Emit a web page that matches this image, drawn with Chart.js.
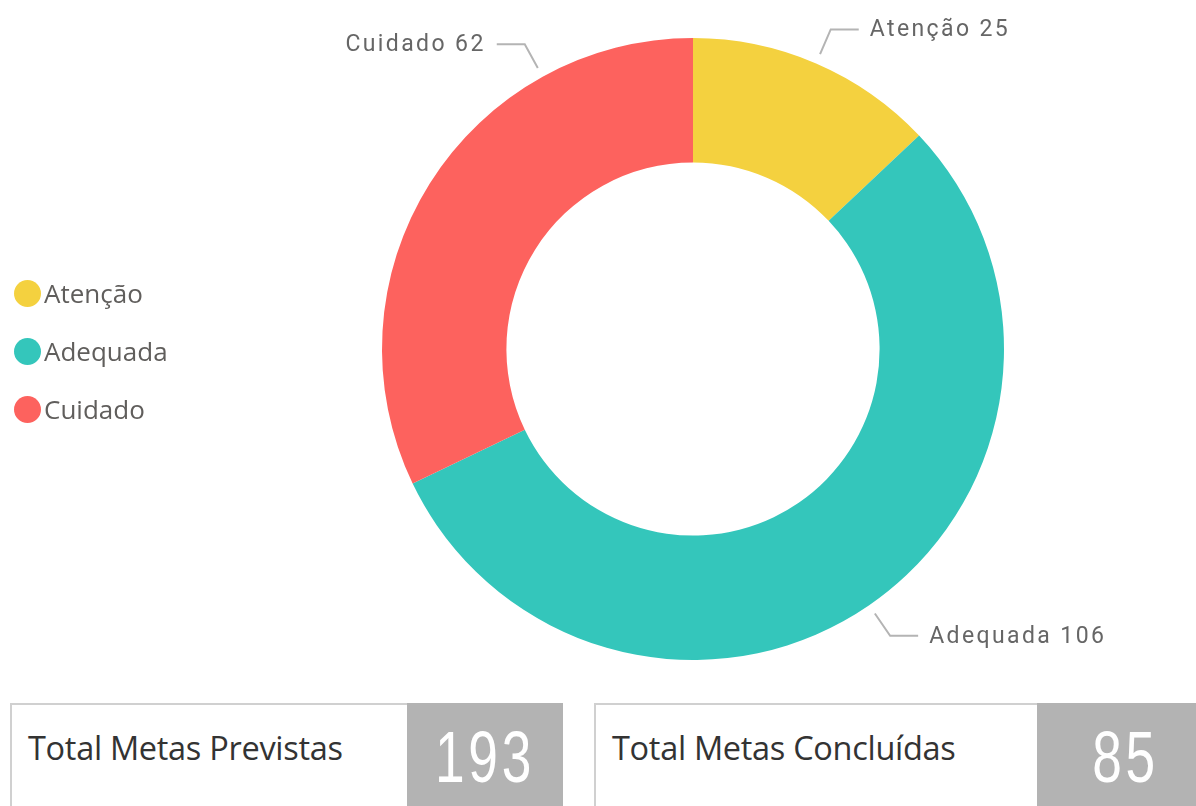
<!DOCTYPE html>
<html>
<head>
<meta charset="utf-8">
<script src="https://cdn.jsdelivr.net/npm/chart.js@4.4.1/dist/chart.umd.min.js"></script>
<style>
  html, body { margin: 0; padding: 0; background: #fff; }
  body { width: 1196px; height: 806px; position: relative; overflow: hidden; font-family: "Open Sans", sans-serif; }
  #chartBox { position: absolute; left: 0; top: 0; width: 1196px; height: 690px; }
  #legend { position: absolute; left: 14px; top: 264px; }
  .lg-item { display: flex; align-items: center; height: 58px; font-size: 26px; color: #605E5C; }
  .lg-dot { width: 27px; height: 27px; border-radius: 50%; margin-right: 3px; }
  .card { position: absolute; top: 703px; height: 110px; border: 2px solid #d0d0d0; box-sizing: border-box; background: #fff; }
  .card .title { position: absolute; left: 16px; top: 20px; font-size: 32.5px; color: #333; white-space: nowrap; letter-spacing: -0.3px; }
  .card .val { position: absolute; top: -2px; right: -2px; height: 110px; background: #b3b3b3; }
  .card .num { display: block; text-align: center; color: #fff; font-family: "Liberation Sans", sans-serif;
               font-size: 72px; line-height: 108px; letter-spacing: 5px; transform: scaleX(0.74); }
</style>
</head>
<body>
<div id="chartBox"><canvas id="donut"></canvas></div>
<div id="legend"></div>

<div class="card" style="left:10px; width:553px;">
  <div class="title">Total Metas Previstas</div>
  <div class="val" style="width:156px;"><span class="num">193</span></div>
</div>
<div class="card" style="left:594px; width:620px;">
  <div class="title">Total Metas Concluídas</div>
  <div class="val" style="width:177px;"><span class="num">85</span></div>
</div>

<script>
const categories = ['Atenção', 'Adequada', 'Cuidado'];
const counts = [25, 106, 62];
const colors = ['#F4D13F', '#34C6BB', '#FD625E'];

// where along each slice the leader line leaves (0 = start, 1 = end)
const labelAnchor = [0.5, 0.5, 0.75];

// legend
const legendEl = document.getElementById('legend');
categories.forEach((c, i) => {
    const row = document.createElement('div');
    row.className = 'lg-item';
    row.innerHTML = '<span class="lg-dot" style="background:' + colors[i] + '"></span>' + c;
    legendEl.appendChild(row);
});

// data labels with leader lines
const leaderLabels = {
    id: 'leaderLabels',
    afterDatasetsDraw(chart) {
        const ctx = chart.ctx;
        const meta = chart.getDatasetMeta(0);
        ctx.save();
        ctx.font = '23px Roboto, sans-serif';
        ctx.letterSpacing = '2.4px';
        ctx.textBaseline = 'middle';
        meta.data.forEach((arc, i) => {
            const p = arc.getProps(['x', 'y', 'startAngle', 'endAngle', 'outerRadius'], true);
            const a = p.startAngle + labelAnchor[i] * (p.endAngle - p.startAngle);
            const cos = Math.cos(a), sin = Math.sin(a);
            const x1 = p.x + (p.outerRadius + 10) * cos, y1 = p.y + (p.outerRadius + 10) * sin;
            const x2 = p.x + (p.outerRadius + 37) * cos, y2 = p.y + (p.outerRadius + 37) * sin;
            const dir = cos >= 0 ? 1 : -1;
            const x3 = x2 + dir * 28;
            ctx.strokeStyle = '#b4b4b4';
            ctx.lineWidth = 2;
            ctx.beginPath();
            ctx.moveTo(x1, y1);
            ctx.lineTo(x2, y2);
            ctx.lineTo(x3, y2);
            ctx.stroke();
            ctx.fillStyle = '#666666';
            ctx.textAlign = dir > 0 ? 'left' : 'right';
            ctx.fillText(categories[i] + ' ' + counts[i], x3 + dir * 11, y2 + 1);
        });
        ctx.restore();
    }
};

new Chart(document.getElementById('donut'), {
    type: 'doughnut',
    data: {
        labels: categories,
        datasets: [{
            data: counts,
            backgroundColor: colors,
            borderWidth: 0,
        }]
    },
    options: {
        responsive: true,
        maintainAspectRatio: false,
        animation: false,
        cutout: '60%',
        layout: { padding: { left: 382, right: 192, top: 38, bottom: 30 } },
        plugins: {
            legend: { display: false },
            tooltip: { enabled: false }
        }
    },
    plugins: [leaderLabels]
});
</script>
</body>
</html>
